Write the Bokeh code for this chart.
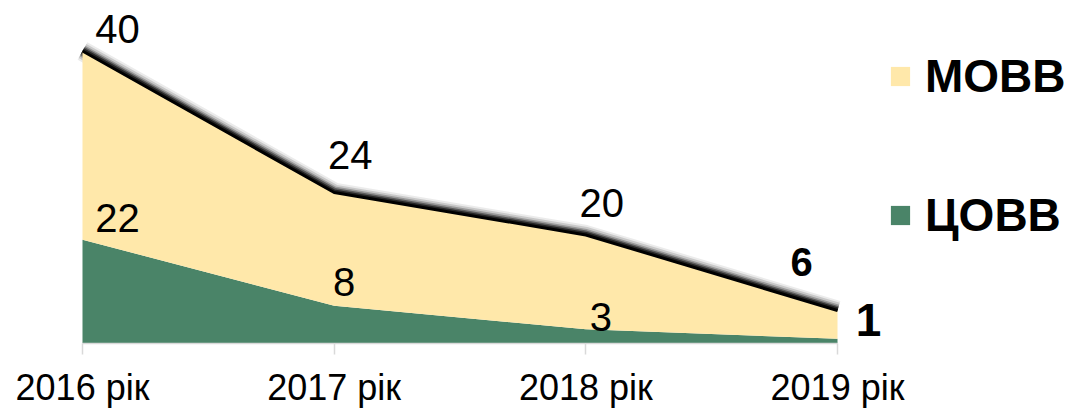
from bokeh.plotting import figure
from bokeh.models import (ColumnDataSource, Range1d, LinearAxis, FixedTicker,
                          Legend, LegendItem)
from bokeh.embed import file_html
from bokeh.resources import INLINE
from bokeh.core.properties import value

# ---- data ----
years = ["2016 рік", "2017 рік", "2018 рік", "2019 рік"]
tsovv = [22, 8, 3, 1]      # ЦОВВ (bottom, green)
movv = [40, 24, 20, 6]     # МОВВ (stacked on top, yellow)

# ---- styling / layout ----
GREEN = "#4A8468"
YELLOW = "#FFE8AA"
FONT = "Liberation Sans"
# label offsets (screen px) relative to the stacked point
top_dx = [35, 16, 16, -36]
top_dy = [-22, -38, -32, -48]
top_size = ["40px", "40px", "40px", "40px"]
top_style = ["normal", "normal", "normal", "bold"]
bot_dx = [35, 10, 15, 31]
bot_dy = [-22, -24, -12, -19]
bot_size = ["40px", "40px", "40px", "46px"]
bot_style = ["normal", "normal", "normal", "bold"]

xs = list(range(len(years)))
total = [a + b for a, b in zip(tsovv, movv)]

src = ColumnDataSource(dict(x=xs, c=tsovv, m=movv, total=total))

p = figure(width=1073, height=410, output_backend="svg", toolbar_location=None,
           x_range=Range1d(-0.3258, 3.9377), y_range=Range1d(0, 72.7),
           x_axis_type=None, y_axis_type=None,
           min_border_left=0, min_border_right=0, min_border_top=0,
           min_border_bottom=66)
p.outline_line_color = None
p.grid.visible = False
p.background_fill_color = "white"

# soft shadow along the top edge (drawn before areas so only the upper part shows)
for w, a in [(20, 0.08), (16, 0.14), (12, 0.24), (9, 0.4), (6, 0.6)]:
    p.line("x", "total", source=src, line_color="black", line_width=w,
           line_alpha=a, line_join="round")

areas = p.varea_stack(stackers=["c", "m"], x="x", color=[GREEN, YELLOW],
                      source=src)

p.line("x", "total", source=src, line_color="black", line_width=3,
       line_join="round")

# axis
ax = LinearAxis(ticker=FixedTicker(ticks=xs),
                major_label_overrides={i: y for i, y in enumerate(years)},
                bounds=(0, len(years) - 1))
ax.axis_line_color = "#D9D9D9"
ax.axis_line_width = 1.5
ax.major_tick_line_color = "#D9D9D9"
ax.major_tick_line_width = 1.5
ax.major_tick_out = 11
ax.major_tick_in = 0
ax.minor_tick_line_color = None
ax.major_label_text_font = FONT
ax.major_label_text_font_size = "36px"
ax.major_label_text_color = "black"
ax.major_label_standoff = 12
p.add_layout(ax, "below")

# data labels
top_src = ColumnDataSource(dict(x=xs, y=total, t=[str(v) for v in movv],
                                dx=top_dx, dy=top_dy, fs=top_size, st=top_style))
bot_src = ColumnDataSource(dict(x=xs, y=tsovv, t=[str(v) for v in tsovv],
                                dx=bot_dx, dy=bot_dy, fs=bot_size, st=bot_style))
for s in (top_src, bot_src):
    p.text(x="x", y="y", text="t", x_offset="dx", y_offset="dy", source=s,
           text_font=value(FONT), text_font_size="fs", text_font_style="st",
           text_color="black", text_align="center", text_baseline="middle")

legend = Legend(items=[LegendItem(label="МОВВ", renderers=[areas[1]]),
                       LegendItem(label="ЦОВВ", renderers=[areas[0]])],
                location=(888, 101))
legend.glyph_width = 24
legend.glyph_height = 24
legend.label_standoff = 13
legend.label_text_font = FONT
legend.label_text_font_size = "46px"
legend.label_text_font_style = "bold"
legend.label_text_color = "black"
legend.spacing = 85
legend.padding = 0
legend.margin = 0
legend.border_line_color = None
legend.background_fill_alpha = 0
p.add_layout(legend, "center")

open("out.html", "w").write(file_html(p, INLINE))
